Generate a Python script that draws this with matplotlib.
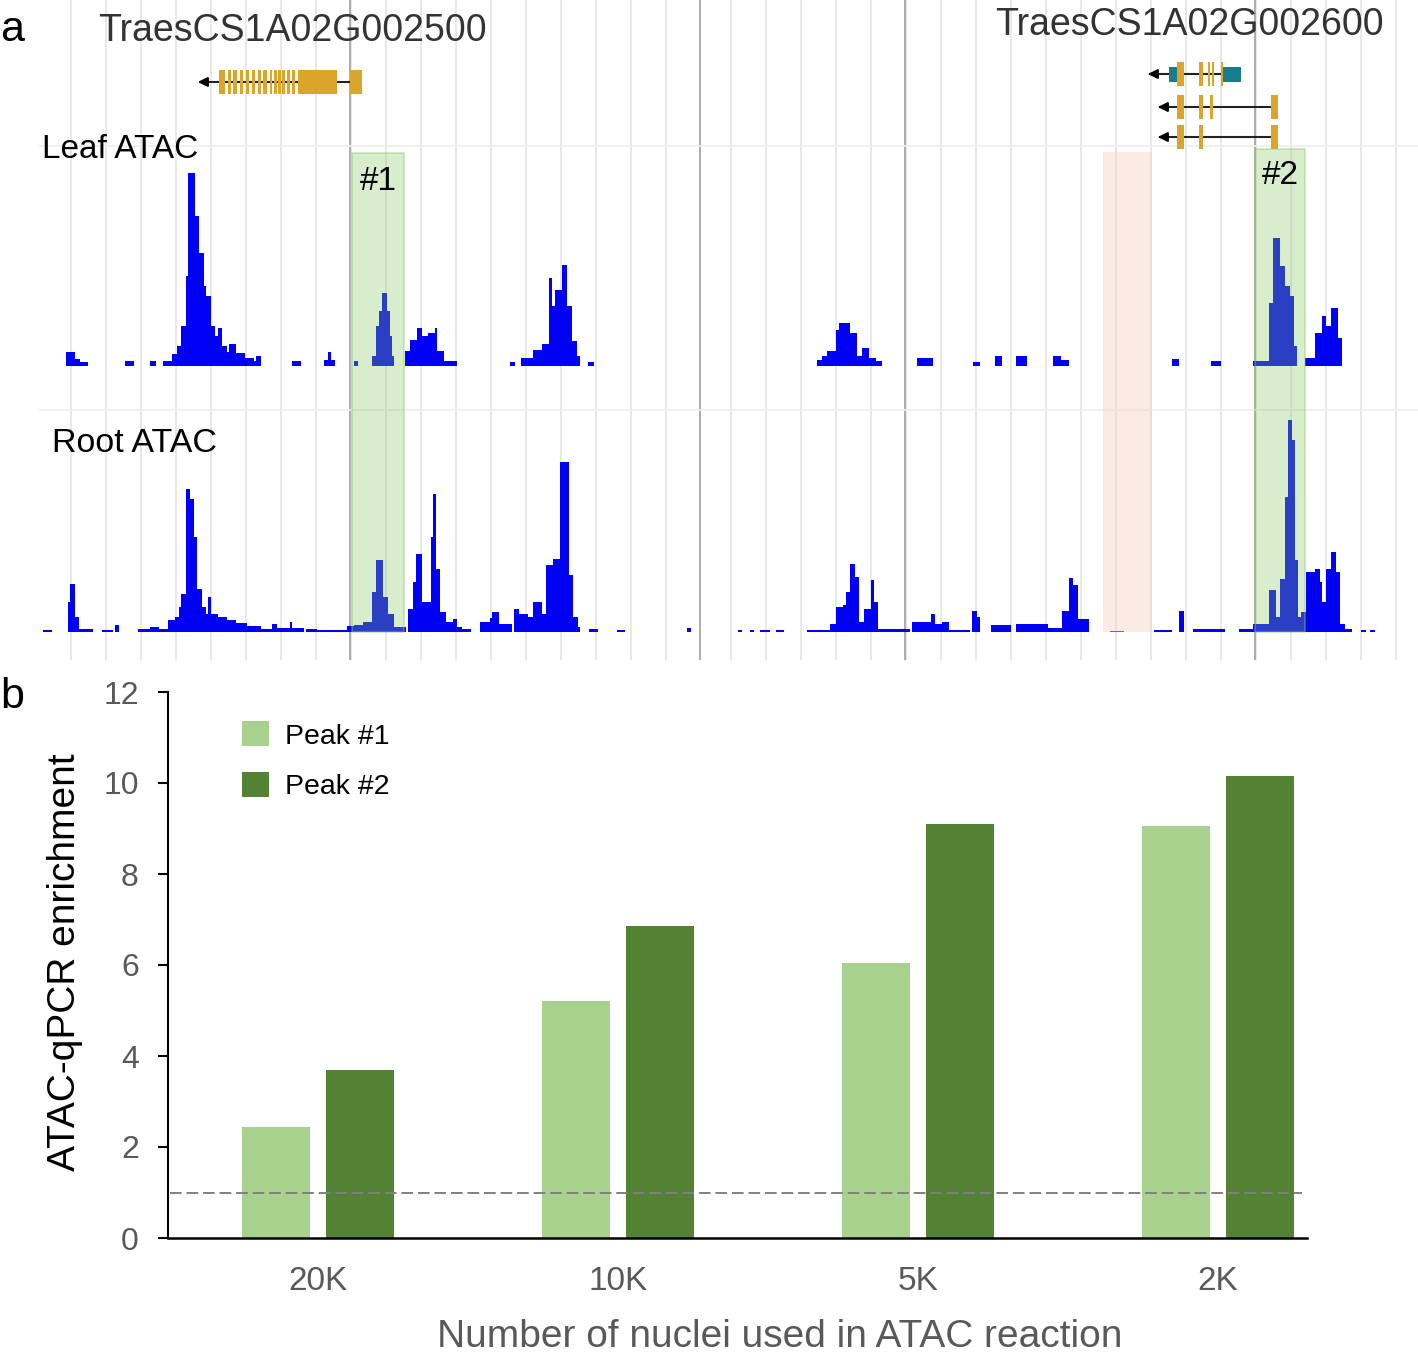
import numpy as np
import matplotlib
matplotlib.use('Agg')
from matplotlib import pyplot as plt
from matplotlib.patches import Rectangle

plt.rcParams['font.family'] = ['Liberation Sans', 'DejaVu Sans']

W, H = 1418, 1355

# ---- panel a : browser tracks (positions in browser pixel units) ----
leaf_bins = [
    (66, 70, 14), (70, 75, 14), (75, 80, 7), (80, 88, 4), (125, 134, 5), (150, 156, 5),
    (163, 172, 5), (172, 177, 12), (177, 181, 20), (181, 186, 40), (186, 188, 90),
    (188, 195, 193), (195, 199, 150), (199, 204, 113), (204, 206, 80), (206, 211, 70),
    (211, 215, 40), (215, 218, 30), (218, 222, 38), (222, 227, 20), (227, 229, 14),
    (229, 236, 22), (236, 245, 13), (245, 254, 8), (254, 256, 5), (256, 261, 10),
    (292, 301, 5), (324, 328, 6), (328, 331, 14), (331, 335, 6), (354, 358, 5),
    (372, 376, 10), (376, 379, 40), (379, 382, 55), (382, 387, 73), (387, 390, 55),
    (390, 392, 30), (392, 394, 10),
    (405, 410, 15), (410, 417, 26), (417, 422, 38), (422, 428, 30), (428, 435, 33),
    (435, 437, 38), (437, 444, 15), (444, 457, 5), (510, 515, 4),
    (521, 533, 8), (533, 542, 16), (542, 549, 22), (549, 552, 88), (552, 555, 60),
    (555, 562, 76), (562, 567, 101), (567, 572, 60), (572, 577, 25), (577, 580, 10),
    (588, 594, 4),
    (817, 822, 6), (822, 827, 10), (827, 836, 15), (836, 839, 36), (839, 850, 43),
    (850, 857, 33), (857, 862, 10), (862, 869, 18), (869, 876, 8), (876, 882, 5),
    (917, 933, 8), (973, 980, 4), (995, 1002, 10), (1016, 1027, 10),
    (1053, 1061, 10), (1061, 1069, 6), (1172, 1179, 7), (1211, 1221, 5),
    (1253, 1269, 5), (1269, 1273, 63), (1273, 1280, 128), (1280, 1285, 100),
    (1285, 1290, 80), (1290, 1294, 70), (1294, 1297, 20),
    (1305, 1315, 8), (1315, 1322, 33), (1322, 1326, 50), (1326, 1331, 40),
    (1331, 1338, 58), (1338, 1342, 28),
]

root_bins = [
    (43, 52, 2), (68, 70, 30), (70, 75, 48), (75, 79, 15), (79, 93, 3),
    (102, 113, 2), (115, 119, 7), (138, 150, 3), (150, 159, 5), (159, 168, 3),
    (168, 175, 12), (175, 179, 15), (179, 181, 25), (181, 186, 38), (186, 190, 143),
    (190, 194, 133), (194, 197, 95), (197, 202, 43), (202, 206, 25), (206, 208, 18),
    (208, 211, 35), (211, 218, 18), (218, 227, 15), (227, 236, 12), (236, 247, 9),
    (247, 261, 6), (261, 272, 3), (272, 277, 8), (277, 290, 4), (290, 292, 10),
    (292, 304, 4), (306, 317, 3), (317, 347, 2), (347, 354, 6),
    (354, 363, 7), (363, 372, 10), (372, 376, 40), (376, 383, 72), (383, 388, 35),
    (388, 394, 18), (394, 406, 5),
    (408, 413, 23), (413, 416, 50), (416, 422, 78), (422, 426, 30), (426, 431, 30),
    (431, 433, 95), (433, 436, 138), (436, 440, 63), (440, 446, 20), (446, 453, 10),
    (453, 457, 13), (457, 462, 5), (462, 471, 3),
    (480, 490, 10), (490, 492, 14), (492, 499, 20), (499, 512, 8), (514, 519, 23),
    (519, 528, 18), (528, 533, 15), (533, 542, 30), (542, 546, 18), (546, 553, 67),
    (553, 560, 73), (560, 564, 170), (564, 569, 170), (569, 573, 57), (573, 578, 15),
    (578, 580, 5), (589, 598, 3), (617, 625, 2), (687, 691, 4),
    (738, 742, 2), (750, 754, 2), (760, 770, 2), (776, 784, 2),
    (807, 830, 2), (830, 836, 8), (836, 843, 25), (843, 846, 27), (846, 850, 40),
    (850, 855, 68), (855, 859, 55), (859, 864, 10), (864, 871, 23), (871, 874, 52),
    (874, 878, 30), (878, 910, 3), (912, 931, 10), (931, 935, 18), (935, 942, 8),
    (942, 949, 10), (949, 970, 2), (972, 977, 21), (977, 980, 15),
    (991, 1011, 7), (1016, 1048, 8), (1048, 1062, 4), (1062, 1069, 21),
    (1069, 1073, 54), (1073, 1078, 47), (1078, 1083, 13), (1083, 1089, 13),
    (1110, 1124, 1), (1154, 1172, 2), (1179, 1184, 21), (1193, 1225, 3),
    (1239, 1253, 3), (1253, 1269, 8), (1269, 1276, 42), (1276, 1280, 15),
    (1280, 1285, 53), (1285, 1288, 135), (1288, 1292, 212), (1292, 1295, 192),
    (1295, 1298, 72), (1298, 1301, 15), (1301, 1306, 20),
    (1306, 1315, 60), (1315, 1320, 63), (1320, 1322, 50), (1322, 1326, 30),
    (1326, 1331, 63), (1331, 1336, 80), (1336, 1340, 60), (1340, 1345, 8),
    (1345, 1352, 3), (1361, 1366, 2), (1370, 1375, 2),
]

gene1_name = 'TraesCS1A02G002500'
gene1_exons = [(219, 225), (228, 231), (233, 237), (240, 243), (246, 249), (252, 255),
               (258, 261), (263, 267), (270, 272), (274, 277), (278, 281), (282, 285),
               (287, 290), (292, 295), (298, 337), (350, 362)]
gene1_line = (205, 350)
gene1_tip = 195

gene2_name = 'TraesCS1A02G002600'
gene2_cds = [[(1177, 1184), (1199, 1203), (1208, 1210), (1212, 1214), (1221, 1223)],
             [(1177, 1184), (1199, 1203), (1210, 1213), (1271, 1278)],
             [(1177, 1184), (1199, 1203), (1271, 1278)]]
gene2_utr = [[(1169, 1177), (1223, 1241)], [], []]
gene2_line = [(1152, 1223), (1162, 1271), (1162, 1271)]
gene2_tip = [1145, 1155, 1155]

peak_regions = [(352, 404), (1255, 1305)]
peak_names = ['#1', '#2']
ctrl_region = (1103, 1152)

# ---- panel b : ATAC-qPCR ----
nuclei = ['20K', '10K', '5K', '2K']
peak1 = [2.45, 5.2, 6.05, 9.05]
peak2 = [3.7, 6.85, 9.1, 10.15]


def px_box(x0, y0, x1, y1):
    return [x0 / W, 1 - y1 / H, (x1 - x0) / W, (y1 - y0) / H]


fig = plt.figure(figsize=(W / 100, H / 100), dpi=100)

# background: grid, separators, gene models
bg = fig.add_axes(px_box(0, 0, W, 660))
bg.set_xlim(0, W)
bg.set_ylim(660, 0)
bg.axis('off')
for gx in list(np.arange(71, 700, 35)) + list(np.arange(731, 1400, 35)):
    bg.axvline(gx, color='#e6e6e6', lw=1.3, zorder=0)
for gx in [350, 700, 905, 1255]:
    bg.axvline(gx, color='#a6a6a6', lw=1.3, zorder=0)
for gy in [146, 410]:
    bg.plot([40, W], [gy, gy], color='#efefef', lw=1.3, zorder=0)

gold = '#DAA52A'
teal = '#187C8E'
bg.plot(gene1_line, [82, 82], color='#222222', lw=1.5, zorder=1)
bg.annotate('', xy=(gene1_tip, 82), xytext=(gene1_line[0] + 2, 82),
            arrowprops=dict(arrowstyle='-|>', color='black', lw=1.5, mutation_scale=14))
bg.broken_barh([(s, e - s) for s, e in gene1_exons], (70, 24), facecolors=gold, zorder=2)

for i, ry in enumerate([74, 107, 137]):
    bg.plot(gene2_line[i], [ry, ry], color='#222222', lw=1.5, zorder=1)
    bg.annotate('', xy=(gene2_tip[i], ry), xytext=(gene2_line[i][0] + 2, ry),
                arrowprops=dict(arrowstyle='-|>', color='black', lw=1.5, mutation_scale=14))
    if gene2_utr[i]:
        bg.broken_barh([(s, e - s) for s, e in gene2_utr[i]], (ry - 7.5, 15),
                       facecolors=teal, zorder=2)
    bg.broken_barh([(s, e - s) for s, e in gene2_cds[i]], (ry - 12, 24),
                   facecolors=gold, zorder=3)

# coverage tracks
for bins, (top, base), ymax in [(leaf_bins, (146, 366), 220), (root_bins, (410, 632), 222)]:
    tx = fig.add_axes(px_box(0, top, W, base))
    st, en, hv = zip(*bins)
    st = np.array(st)
    tx.bar(st, hv, width=np.array(en) - st, align='edge', color='#0000f5', linewidth=0)
    tx.set_xlim(0, W)
    tx.set_ylim(0, ymax)
    tx.axis('off')

# highlight overlay
ov = fig.add_axes(px_box(0, 0, W, 660))
ov.set_xlim(0, W)
ov.set_ylim(660, 0)
ov.axis('off')
for (x0, x1), ytop in zip(peak_regions, [153, 149]):
    ov.add_patch(Rectangle((x0, ytop), x1 - x0, 632 - ytop,
                           facecolor=(0.53, 0.78, 0.375, 0.32),
                           edgecolor=(0.55, 0.8, 0.4, 0.45), lw=1.2))
ov.add_patch(Rectangle((ctrl_region[0], 152), ctrl_region[1] - ctrl_region[0], 480,
                       facecolor=(0.976, 0.83, 0.75, 0.45), lw=0))
for (x0, x1), name, ty in zip(peak_regions, peak_names, [182, 175]):
    ov.text((x0 + x1) / 2, ty, name, fontsize=24, ha='center', va='center', color='black')

fig.text(0, 1 - 30 / H, 'a', fontsize=31, ha='left', va='center')
fig.text(292 / W, 1 - 31 / H, gene1_name, fontsize=27, ha='center', va='center', color='#333333')
fig.text(1189 / W, 1 - 25 / H, gene2_name, fontsize=27, ha='center', va='center', color='#333333')
fig.text(42 / W, 1 - 150 / H, 'Leaf ATAC', fontsize=24, ha='left', va='center')
fig.text(52 / W, 1 - 444 / H, 'Root ATAC', fontsize=24.5, ha='left', va='center')

# panel b
ax = fig.add_axes(px_box(168, 692, 1307, 1238))
x = np.arange(len(nuclei))
ax.bar(x - 0.141, peak1, 0.227, color='#a9d18e', label='Peak #1')
ax.bar(x + 0.141, peak2, 0.227, color='#548235', label='Peak #2')
ax.axhline(1, color='#808080', lw=1.4, ls=(0, (6, 2.5)), xmin=0.002, xmax=0.996)
ax.set_xlim(-0.5, 3.297)
ax.set_ylim(0, 12)
ax.set_yticks(range(0, 13, 2))
ax.set_xticks(x)
ax.set_xticklabels(nuclei)
ax.tick_params(axis='y', length=7, width=1.5, pad=14, labelsize=23, labelcolor='#595959')
ax.tick_params(axis='x', length=0, pad=20, labelsize=24, labelcolor='#595959')
for s in ['top', 'right']:
    ax.spines[s].set_visible(False)
ax.spines['left'].set_linewidth(1.5)
ax.spines['bottom'].set_linewidth(1.8)
ax.legend(loc='upper left', bbox_to_anchor=(0.065, 0.946), frameon=False, fontsize=20.5,
          handlelength=0.95, handleheight=0.95, handletextpad=0.55, labelspacing=0.8,
          borderpad=0, borderaxespad=0)

fig.text(0, 1 - 697 / H, 'b', fontsize=31, ha='left', va='center')
fig.text(65 / W, 1 - 962 / H, 'ATAC-qPCR enrichment', fontsize=28, rotation=90,
         ha='center', va='center')
fig.text(780 / W, 1 - 1347 / H, 'Number of nuclei used in ATAC reaction', fontsize=28,
         ha='center', va='baseline', color='#595959')

fig.savefig('out.png', dpi=100)
